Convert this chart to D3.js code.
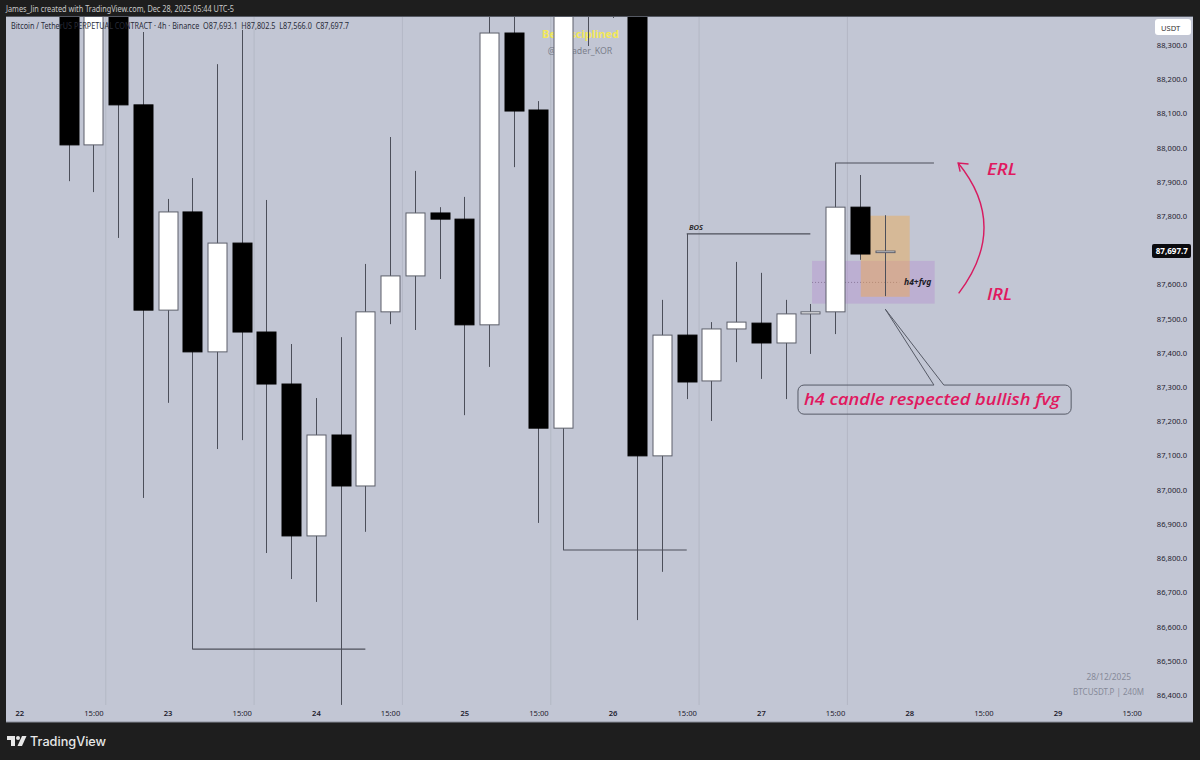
<!DOCTYPE html>
<html>
<head>
<meta charset="utf-8">
<script src="https://cdn.jsdelivr.net/npm/d3@7/dist/d3.min.js"></script>
<style>
    html, body {margin: 0; padding: 0; background: #1e1e1e;}
    svg {display: block;}
    text {font-family: "Noto Sans", sans-serif;}
</style>
</head>
<body>
<svg id="chart" width="1200" height="760"></svg>
<script>

// 4h candles. The first and the 21st-24th bodies run off the top.
const opens = [88500, 88008, 88560, 88125, 87525, 87812, 87403, 87721, 87461, 87309,
    86865, 87160, 87011, 87520, 87625, 87809, 87791, 87482, 88335, 88110,
    87180, 88700, 88650, 88750, 87099, 87452, 87318, 87470, 87487, 87429,
    87514, 87520, 87826, 87693.1];
const closes = [88008, 88560, 88125, 87525, 87812, 87403, 87721, 87461, 87309, 86865,
    87160, 87011, 87520, 87625, 87809, 87791, 87482, 88335, 88107, 87180,
    88700, 88650, 88750, 87099, 87452, 87315, 87470, 87490, 87429, 87514,
    87520, 87826, 87689, 87697.7];
const highs = [88700, 88700, 88700, 88338, 87850, 87911, 88244, 88344, 87847, 87426,
    87268, 87446, 87660, 88031, 87932, 87826, 87856, 88450, 88420, 88136,
    88750, 88800, 88820, 88850, 87555, 87748, 87490, 87666, 87634, 87555,
    87543, 87955, 87920, 87802.5];
const lows = [87902, 87870, 87736, 86976, 87254, 86534, 87119, 87145, 86815, 86739,
    86672, 86371, 86877, 87484, 87467, 87616, 87218, 87359, 87943, 86903,
    86824, 88297, 88379, 86619, 86760, 87265, 87201, 87373, 87324, 87265,
    87397, 87455, 87672, 87566];

const priceTicks = [88300, 88200, 88100, 88000, 87900, 87800, 87700, 87600, 87500, 87400,
    87300, 87200, 87100, 87000, 86900, 86800, 86700, 86600, 86500, 86400];
const timeTicks = [-2, 1, 4, 7, 10, 13, 16, 19, 22, 25, 28, 31, 34, 37, 40, 43];
const timeLabels = ['22', '15:00', '23', '15:00', '24', '15:00', '25', '15:00',
    '26', '15:00', '27', '15:00', '28', '15:00', '29', '15:00'];
const sessionBreaks = [1.5, 7.5, 13.5, 19.5, 25.5, 31.5];

// horizontal drawings: [from candle, to candle, price]
const levels = [[5, 12, 86534], [20, 25, 86824], [25, 30, 87748], [31, 35, 87955]];

const x = d3.scaleLinear().domain([0, 33]).range([68.7, 884.5]);
const y = d3.scaleLinear().domain([88300, 86400]).range([45, 695]);

const svg = d3.select('#chart');
const pink = '#e0195f';
const wickColor = '#4c4f5a';
const noteFont = '"Open Sans", sans-serif';

svg.append('defs').append('clipPath').attr('id', 'plotClip')
    .append('rect')
    .attr('x', 6).attr('y', 17)
    .attr('width', 1187).attr('height', 705);

function drawFrame() {
    svg.append('rect')
        .attr('x', 6).attr('y', 17)
        .attr('width', 1187).attr('height', 705)
        .style('fill', '#c2c6d4');
    svg.append('line')
        .attr('x1', 6).attr('x2', 1193).attr('y1', 16.5).attr('y2', 16.5)
        .style('stroke', '#555963');
    svg.append('line')
        .attr('x1', 6).attr('x2', 1193).attr('y1', 722).attr('y2', 722)
        .style('stroke', '#8a8e9a');

    svg.append('text')
        .attr('x', 6).attr('y', 12)
        .attr('textLength', 228)
        .attr('lengthAdjust', 'spacingAndGlyphs')
        .style('font-size', '8.2px')
        .style('fill', '#c9c9c9')
        .text('James_Jin created with TradingView.com, Dec 28, 2025 05:44 UTC-5');

    // TradingView logo
    const logo = svg.append('g').attr('transform', 'translate(7,736)').style('fill', '#e8e8e8');
    logo.append('path').attr('d', 'M0,0H8V10H4V4H0Z');
    logo.append('circle').attr('cx', 11).attr('cy', 2).attr('r', 2);
    logo.append('path').attr('d', 'M15,0H19.5L15,10H10.5Z');
    svg.append('text')
        .attr('x', 30).attr('y', 746)
        .style('font-family', 'Inter')
        .style('font-size', '12.7px')
        .style('font-weight', 500)
        .style('fill', '#e8e8e8')
        .text('TradingView');
}

function drawWatermark() {
    svg.append('text')
        .attr('x', 580.5).attr('y', 37.5)
        .attr('text-anchor', 'middle')
        .style('font-size', '11px')
        .style('font-weight', 700)
        .style('fill', '#f2e85a')
        .text('Be Disciplined');
    svg.append('text')
        .attr('x', 580).attr('y', 54)
        .attr('text-anchor', 'middle')
        .style('font-size', '8.8px')
        .style('fill', '#7b7f8c')
        .text('@FXtrader_KOR');
}

function drawGrid(g) {
    g.selectAll('line.session')
        .data(sessionBreaks)
        .enter().append('line')
        .attr('class', 'session')
        .attr('x1', function(d) {return x(d); })
        .attr('x2', function(d) {return x(d); })
        .attr('y1', 17)
        .attr('y2', 705)
        .style('stroke', '#adb1be')
        .style('stroke-width', 0.7);
}

function drawZones(g) {
    g.append('rect')
        .attr('x', x(30.07)).attr('width', x(35.03) - x(30.07))
        .attr('y', y(87669)).attr('height', y(87544) - y(87669))
        .style('fill', '#b48fd0')
        .style('fill-opacity', 0.42);
    g.append('line')
        .attr('x1', x(30.07)).attr('x2', x(33.6))
        .attr('y1', y(87606)).attr('y2', y(87606))
        .style('stroke', '#8b7a9c')
        .style('stroke-dasharray', '1,2');
    g.append('rect')
        .attr('x', x(32.04)).attr('width', x(34.02) - x(32.04))
        .attr('y', y(87801)).attr('height', y(87564) - y(87801))
        .style('fill', '#f5a63c')
        .style('fill-opacity', 0.4);
}

function drawCandles(g) {
    const bodyWidth = 19;

    const candles = g.selectAll('g.candle')
        .data(d3.range(opens.length))
        .enter().append('g')
        .attr('class', 'candle');

    candles.append('line')
        .attr('x1', function(i) {return Math.round(x(i)) + 0.5; })
        .attr('x2', function(i) {return Math.round(x(i)) + 0.5; })
        .attr('y1', function(i) {return y(highs[i]); })
        .attr('y2', function(i) {return y(lows[i]); })
        .style('stroke', wickColor);

    candles.append('rect')
        .attr('x', function(i) {return Math.round(x(i)) - 9; })
        .attr('y', function(i) {return y(Math.max(opens[i], closes[i])); })
        .attr('width', bodyWidth)
        .attr('height', function(i) {return Math.abs(y(opens[i]) - y(closes[i])); })
        .style('fill', function(i) {return closes[i] >= opens[i] ? '#fff' : '#000'; })
        .style('stroke', function(i) {return closes[i] >= opens[i] ? '#5c5f6a' : '#000'; });
}

function drawLevels(g) {
    g.selectAll('line.level')
        .data(levels)
        .enter().append('line')
        .attr('class', 'level')
        .attr('x1', function(d) {return x(d[0]); })
        .attr('x2', function(d) {return x(d[1]); })
        .attr('y1', function(d) {return y(d[2]); })
        .attr('y2', function(d) {return y(d[2]); })
        .style('stroke', '#4c4f5a')
        .style('stroke-width', 1.1);

    svg.append('text')
        .attr('x', 689).attr('y', 230)
        .style('font-size', '7.5px')
        .style('font-style', 'italic')
        .style('font-weight', 600)
        .style('fill', '#222')
        .text('BOS');
    svg.append('text')
        .attr('x', 904).attr('y', 285)
        .style('font-size', '8.5px')
        .style('font-style', 'italic')
        .style('font-weight', 700)
        .style('fill', '#1c1c28')
        .text('h4+fvg');
}

function drawAnnotations() {
    // curved arrow from IRL up to ERL
    const curve = d3.path();
    curve.moveTo(x(36.0), y(87574));
    curve.quadraticCurveTo(x(38.06), y(87771), x(35.98), y(87955));
    svg.append('path')
        .attr('d', curve.toString())
        .style('fill', 'none')
        .style('stroke', '#d81b60')
        .style('stroke-width', 1.4);
    svg.append('path')
        .attr('d', 'M' + x(36.06) + ',' + y(87930) + 'L' + x(35.98) + ',' + y(87955) + 'L' + x(36.4) + ',' + y(87952))
        .style('fill', 'none')
        .style('stroke', '#d81b60')
        .style('stroke-width', 1.4);

    [['ERL', 175, 30], ['IRL', 300, 25]].forEach(function(d) {
        svg.append('text')
            .attr('x', 987).attr('y', d[1])
            .attr('textLength', d[2])
            .attr('lengthAdjust', 'spacingAndGlyphs')
            .style('font-family', noteFont)
            .style('font-size', '17px')
            .style('font-style', 'italic')
            .style('font-weight', 600)
            .style('fill', pink)
            .text(d[0]);
    });

    // callout box with its pointer to the h4 candle
    const left = x(29.5), right = x(40.55), top = y(87306), bottom = y(87221), r = 6;
    const callout = d3.path();
    callout.moveTo(left + r, top);
    callout.lineTo(x(35.0), top);
    callout.lineTo(x(33.03), y(87528));
    callout.lineTo(x(35.4), top);
    callout.lineTo(right - r, top);
    callout.arcTo(right, top, right, top + r, r);
    callout.lineTo(right, bottom - r);
    callout.arcTo(right, bottom, right - r, bottom, r);
    callout.lineTo(left + r, bottom);
    callout.arcTo(left, bottom, left, bottom - r, r);
    callout.lineTo(left, top + r);
    callout.arcTo(left, top, left + r, top, r);
    svg.append('path')
        .attr('d', callout.toString())
        .style('fill', 'none')
        .style('stroke', '#565a66')
        .style('stroke-width', 1);
    svg.append('text')
        .attr('x', 804).attr('y', 405)
        .attr('textLength', 256)
        .attr('lengthAdjust', 'spacingAndGlyphs')
        .style('font-family', noteFont)
        .style('font-size', '16.5px')
        .style('font-style', 'italic')
        .style('font-weight', 600)
        .style('fill', pink)
        .text('h4 candle respected bullish fvg');
}

function drawAxes() {
    const priceAxis = d3.axisRight(y)
        .tickValues(priceTicks)
        .tickFormat(d3.format(',.1f'))
        .tickSize(0);
    const pg = svg.append('g')
        .attr('transform', 'translate(1187,0)')
        .call(priceAxis);
    pg.select('.domain').remove();
    pg.selectAll('text')
        .attr('x', 0)
        .attr('text-anchor', 'end')
        .style('font-size', '7.6px')
        .style('fill', '#1f2230');

    const timeAxis = d3.axisBottom(x)
        .tickValues(timeTicks)
        .tickFormat(function(d, i) {return timeLabels[i]; })
        .tickSize(0);
    const tg = svg.append('g')
        .attr('transform', 'translate(0,706)')
        .call(timeAxis);
    tg.select('.domain').remove();
    tg.selectAll('text')
        .attr('y', 5)
        .style('font-size', '7.6px')
        .style('font-weight', function(d, i) {return timeLabels[i] == '15:00' ? 400 : 600; })
        .style('fill', '#1f2230');

    // USDT box and the last price tag
    svg.append('rect')
        .attr('x', 1155).attr('y', 19)
        .attr('width', 36).attr('height', 16)
        .attr('rx', 3)
        .style('fill', '#fff');
    svg.append('text')
        .attr('x', 1161).attr('y', 30.5)
        .style('font-size', '7.6px')
        .style('fill', '#333')
        .text('USDT');
    svg.append('rect')
        .attr('x', 1152).attr('y', y(closes[closes.length - 1]) - 7)
        .attr('width', 39).attr('height', 14)
        .attr('rx', 2)
        .style('fill', '#0b0b0f');
    svg.append('text')
        .attr('x', 1188).attr('y', y(closes[closes.length - 1]) + 3)
        .attr('text-anchor', 'end')
        .style('font-size', '8.1px')
        .style('font-weight', 700)
        .style('fill', '#fff')
        .text(d3.format(',.1f')(closes[closes.length - 1]));
}

function drawLegend() {
    svg.append('text')
        .attr('x', 11).attr('y', 28.5)
        .attr('xml:space', 'preserve')
        .attr('textLength', 338)
        .attr('lengthAdjust', 'spacingAndGlyphs')
        .style('font-size', '8.2px')
        .style('fill', '#2a2d3a')
        .text('Bitcoin / TetherUS PERPETUAL CONTRACT · 4h · Binance  O87,693.1  H87,802.5  L87,566.0  C87,697.7');

    svg.append('text')
        .attr('x', 1131).attr('y', 680)
        .attr('text-anchor', 'end')
        .style('font-size', '8.4px')
        .style('fill', '#868a99')
        .text('28/12/2025');
    svg.append('text')
        .attr('x', 1144).attr('y', 695)
        .attr('text-anchor', 'end')
        .style('font-size', '8px')
        .style('fill', '#868a99')
        .text('BTCUSDT.P | 240M');
}

drawFrame();
const plot = svg.append('g').attr('clip-path', 'url(#plotClip)');
drawGrid(plot);
drawWatermark();
const marks = svg.append('g').attr('clip-path', 'url(#plotClip)');
drawZones(marks);
drawCandles(marks);
drawLevels(marks);
drawAnnotations();
drawAxes();
drawLegend();

</script>
</body>
</html>
